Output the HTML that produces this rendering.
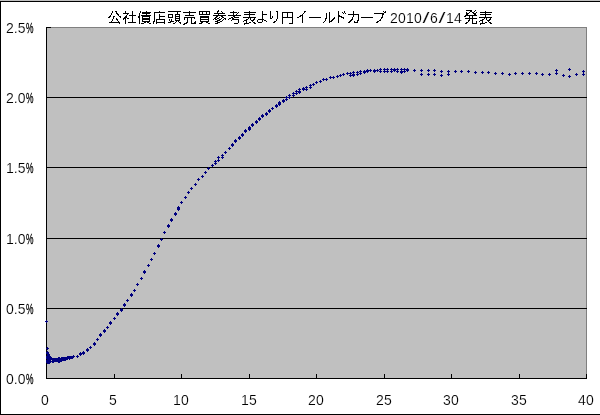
<!DOCTYPE html>
<html lang="ja"><head><meta charset="utf-8">
<title>公社債店頭売買参考表より円イールドカーブ 2010/6/14発表</title>
<style>
html,body{margin:0;padding:0;background:#fff}
body{width:600px;height:415px;overflow:hidden;position:relative;font-family:"Liberation Sans",sans-serif;font-size:14px;color:#000}
#c{position:absolute;left:0;top:0;width:600px;height:415px;background:#fff;overflow:hidden}
.bt0{position:absolute;left:0;top:0;width:600px;height:1px;background:#c0c0c0}
.bt{position:absolute;left:0;top:1px;width:600px;height:1px;background:#000}
.bl{position:absolute;left:0;top:1px;width:1px;height:414px;background:#000}
.bb{position:absolute;left:0;top:414px;width:600px;height:1px;background:#000}
#p{position:absolute;left:46px;top:27px;width:541px;height:352px;background:#c0c0c0}
.pt{position:absolute;left:46px;top:27px;width:541px;height:1px;background:#808080}
.pr{position:absolute;left:586px;top:27px;width:1px;height:352px;background:#808080}
.g{position:absolute;left:46px;width:541px;height:1px;background:#000}
.ax{position:absolute;left:46px;top:27px;width:1px;height:352px;background:#000}
.ay{position:absolute;left:46px;top:378px;width:541px;height:1px;background:#000}
.t{position:absolute;top:374px;width:1px;height:5px;background:#000}
.t0{position:absolute;left:46px;top:27px;width:5px;height:1px;background:#000}
.yl{position:absolute;left:6px;width:40px;height:14px;line-height:14px;margin-top:-6px;text-align:left;white-space:nowrap}
.pc{display:inline-block;transform:scaleX(.6);transform-origin:0 50%}
.xl{position:absolute;top:393px;width:40px;margin-left:-20px;height:14px;line-height:14px;text-align:center;letter-spacing:.22px}
.xl.s{margin-left:-21px}
#ttl{position:absolute;left:0;top:0;width:600px;height:27px}
.td{position:absolute;left:390px;top:11px;height:14px;line-height:14px;white-space:nowrap;font-size:14px}
.td span{display:inline-block;text-align:center;width:8px}.td span.s{transform:scaleX(1.8)}
svg{position:absolute;left:0;top:0;overflow:visible}
.yl,.xl,.td{-webkit-text-stroke:0.15px #fff;will-change:transform}
.pc{-webkit-text-stroke:0.3px #000;margin-left:1px}
</style></head><body>
<div id="c">
<div class="bt0"></div><div class="bt"></div><div class="bl"></div><div class="bb"></div>
<div id="ttl">
<svg width="600" height="27" viewBox="0 0 600 27" role="img" aria-label="公社債店頭売買参考表より円イールドカーブ 2010/6/14発表"><title>公社債店頭売買参考表より円イールドカーブ 2010/6/14発表</title>
<path fill="#000" shape-rendering="crispEdges" d="M112 11h1v1h-1zM115 11h2v1h-2zM112 12h1v1h-1zM116 12h1v1h-1zM111 13h1v1h-1zM116 13h2v1h-2zM111 14h1v1h-1zM117 14h2v1h-2zM110 15h1v1h-1zM118 15h1v1h-1zM109 16h2v1h-2zM113 16h2v1h-2zM119 16h2v1h-2zM108 17h2v1h-2zM113 17h1v1h-1zM120 17h1v1h-1zM113 18h1v1h-1zM116 18h1v1h-1zM112 19h1v1h-1zM116 19h2v1h-2zM112 20h1v1h-1zM117 20h1v1h-1zM111 21h1v1h-1zM118 21h1v1h-1zM109 22h11v1h-11zM119 23h1v1h-1zM125 11h1v1h-1zM132 11h1v1h-1zM125 12h1v1h-1zM132 12h1v1h-1zM123 13h6v1h-6zM132 13h1v1h-1zM127 14h1v1h-1zM132 14h1v1h-1zM126 15h1v1h-1zM129 15h7v1h-7zM125 16h2v1h-2zM132 16h1v1h-1zM124 17h3v1h-3zM132 17h1v1h-1zM123 18h3v1h-3zM127 18h2v1h-2zM132 18h1v1h-1zM123 19h1v1h-1zM125 19h1v1h-1zM132 19h1v1h-1zM125 20h1v1h-1zM132 20h1v1h-1zM125 21h1v1h-1zM132 21h1v1h-1zM125 22h1v1h-1zM128 22h8v1h-8zM125 23h1v1h-1zM140 11h1v1h-1zM146 11h1v1h-1zM140 12h1v1h-1zM142 12h9v1h-9zM139 13h1v1h-1zM142 13h8v1h-8zM139 14h1v1h-1zM146 14h1v1h-1zM139 15h1v1h-1zM141 15h10v1h-10zM138 16h2v1h-2zM142 16h8v1h-8zM138 17h2v1h-2zM142 17h1v1h-1zM149 17h1v1h-1zM139 18h1v1h-1zM142 18h8v1h-8zM139 19h1v1h-1zM142 19h8v1h-8zM139 20h1v1h-1zM142 20h1v1h-1zM149 20h1v1h-1zM139 21h1v1h-1zM142 21h8v1h-8zM139 22h1v1h-1zM144 22h2v1h-2zM147 22h2v1h-2zM139 23h1v1h-1zM141 23h3v1h-3zM149 23h2v1h-2zM159 11h1v1h-1zM154 12h11v1h-11zM154 13h1v1h-1zM154 14h1v1h-1zM159 14h1v1h-1zM154 15h1v1h-1zM159 15h1v1h-1zM154 16h1v1h-1zM159 16h6v1h-6zM154 17h1v1h-1zM159 17h1v1h-1zM154 18h1v1h-1zM159 18h1v1h-1zM154 19h1v1h-1zM156 19h9v1h-9zM154 20h1v1h-1zM156 20h1v1h-1zM164 20h1v1h-1zM153 21h2v1h-2zM156 21h1v1h-1zM164 21h1v1h-1zM153 22h1v1h-1zM156 22h9v1h-9zM153 23h1v1h-1zM156 23h1v1h-1zM164 23h1v1h-1zM168 11h13v1h-13zM177 12h1v1h-1zM177 13h1v1h-1zM168 14h5v1h-5zM175 14h5v1h-5zM168 15h1v1h-1zM172 15h1v1h-1zM175 15h1v1h-1zM179 15h1v1h-1zM168 16h1v1h-1zM172 16h1v1h-1zM175 16h5v1h-5zM168 17h5v1h-5zM175 17h1v1h-1zM179 17h1v1h-1zM175 18h5v1h-5zM169 19h1v1h-1zM171 19h1v1h-1zM175 19h1v1h-1zM179 19h1v1h-1zM169 20h1v1h-1zM171 20h1v1h-1zM175 20h5v1h-5zM170 21h4v1h-4zM176 21h1v1h-1zM178 21h1v1h-1zM168 22h3v1h-3zM175 22h1v1h-1zM179 22h2v1h-2zM173 23h2v1h-2zM180 23h1v1h-1zM189 11h1v1h-1zM183 12h13v1h-13zM189 13h1v1h-1zM189 14h1v1h-1zM185 15h9v1h-9zM184 17h11v1h-11zM184 18h1v1h-1zM187 18h1v1h-1zM191 18h1v1h-1zM194 18h1v1h-1zM184 19h1v1h-1zM187 19h1v1h-1zM191 19h1v1h-1zM187 20h1v1h-1zM191 20h1v1h-1zM187 21h1v1h-1zM191 21h1v1h-1zM195 21h1v1h-1zM186 22h2v1h-2zM191 22h1v1h-1zM194 22h2v1h-2zM184 23h3v1h-3zM191 23h5v1h-5zM183 24h2v1h-2zM199 11h11v1h-11zM199 12h1v1h-1zM202 12h1v1h-1zM206 12h1v1h-1zM209 12h1v1h-1zM199 13h1v1h-1zM202 13h1v1h-1zM206 13h1v1h-1zM209 13h1v1h-1zM199 14h11v1h-11zM200 16h9v1h-9zM200 17h9v1h-9zM200 18h1v1h-1zM208 18h1v1h-1zM200 19h9v1h-9zM200 20h1v1h-1zM208 20h1v1h-1zM200 21h9v1h-9zM201 22h2v1h-2zM206 22h2v1h-2zM199 23h3v1h-3zM208 23h2v1h-2zM218 10h1v1h-1zM217 11h2v1h-2zM221 11h1v1h-1zM217 12h1v1h-1zM222 12h1v1h-1zM214 13h11v1h-11zM218 14h1v1h-1zM213 15h13v1h-13zM216 16h2v1h-2zM221 16h2v1h-2zM215 17h2v1h-2zM219 17h1v1h-1zM222 17h2v1h-2zM214 18h2v1h-2zM217 18h2v1h-2zM221 18h1v1h-1zM224 18h2v1h-2zM213 19h1v1h-1zM215 19h2v1h-2zM219 19h2v1h-2zM223 19h1v1h-1zM225 19h1v1h-1zM217 20h3v1h-3zM222 20h1v1h-1zM215 21h3v1h-3zM220 21h2v1h-2zM217 22h3v1h-3zM215 23h3v1h-3zM233 11h1v1h-1zM230 12h7v1h-7zM238 12h1v1h-1zM233 13h1v1h-1zM237 13h1v1h-1zM233 14h1v1h-1zM236 14h1v1h-1zM228 15h13v1h-13zM233 16h2v1h-2zM231 17h2v1h-2zM234 17h5v1h-5zM229 18h2v1h-2zM232 18h2v1h-2zM228 19h1v1h-1zM232 19h7v1h-7zM231 20h1v1h-1zM238 20h1v1h-1zM238 21h1v1h-1zM238 22h1v1h-1zM234 23h4v1h-4zM249 11h1v1h-1zM244 12h12v1h-12zM249 13h1v1h-1zM244 14h11v1h-11zM249 15h1v1h-1zM249 16h1v1h-1zM243 17h13v1h-13zM248 18h1v1h-1zM250 18h1v1h-1zM254 18h1v1h-1zM246 19h2v1h-2zM250 19h1v1h-1zM253 19h2v1h-2zM244 20h3v1h-3zM251 20h3v1h-3zM243 21h1v1h-1zM246 21h1v1h-1zM252 21h1v1h-1zM246 22h1v1h-1zM249 22h2v1h-2zM253 22h2v1h-2zM244 23h5v1h-5zM254 23h2v1h-2zM244 24h1v1h-1zM262 11h1v1h-1zM262 12h1v1h-1zM262 13h1v1h-1zM262 14h5v1h-5zM262 15h1v1h-1zM262 16h1v1h-1zM262 17h1v1h-1zM262 18h1v1h-1zM258 19h6v1h-6zM257 20h1v1h-1zM262 20h1v1h-1zM264 20h2v1h-2zM257 21h1v1h-1zM262 21h1v1h-1zM266 21h1v1h-1zM258 22h4v1h-4zM270 11h1v1h-1zM276 11h2v1h-2zM270 12h1v1h-1zM277 12h1v1h-1zM270 13h1v1h-1zM277 13h1v1h-1zM270 14h1v1h-1zM277 14h1v1h-1zM270 15h1v1h-1zM277 15h1v1h-1zM270 16h1v1h-1zM272 16h1v1h-1zM277 16h1v1h-1zM270 17h1v1h-1zM272 17h1v1h-1zM277 17h1v1h-1zM270 18h2v1h-2zM277 18h1v1h-1zM276 19h1v1h-1zM276 20h1v1h-1zM274 21h2v1h-2zM273 22h2v1h-2zM282 12h11v1h-11zM282 13h1v1h-1zM287 13h1v1h-1zM292 13h1v1h-1zM282 14h1v1h-1zM287 14h1v1h-1zM292 14h1v1h-1zM282 15h1v1h-1zM287 15h1v1h-1zM292 15h1v1h-1zM282 16h1v1h-1zM287 16h1v1h-1zM292 16h1v1h-1zM282 17h11v1h-11zM282 18h1v1h-1zM292 18h1v1h-1zM282 19h1v1h-1zM292 19h1v1h-1zM282 20h1v1h-1zM292 20h1v1h-1zM282 21h1v1h-1zM292 21h1v1h-1zM282 22h1v1h-1zM292 22h1v1h-1zM282 23h1v1h-1zM289 23h4v1h-4zM304 11h2v1h-2zM304 12h1v1h-1zM303 13h1v1h-1zM302 14h1v1h-1zM300 15h3v1h-3zM299 16h2v1h-2zM302 16h1v1h-1zM297 17h2v1h-2zM302 17h1v1h-1zM302 18h1v1h-1zM302 19h1v1h-1zM302 20h1v1h-1zM302 21h1v1h-1zM302 22h1v1h-1zM309 17h12v1h-12zM329 12h1v1h-1zM326 13h1v1h-1zM329 13h1v1h-1zM326 14h1v1h-1zM329 14h1v1h-1zM326 15h1v1h-1zM329 15h1v1h-1zM326 16h1v1h-1zM329 16h1v1h-1zM326 17h1v1h-1zM329 17h1v1h-1zM334 17h1v1h-1zM325 18h2v1h-2zM329 18h1v1h-1zM333 18h2v1h-2zM325 19h1v1h-1zM329 19h1v1h-1zM332 19h2v1h-2zM325 20h1v1h-1zM329 20h1v1h-1zM331 20h2v1h-2zM324 21h1v1h-1zM329 21h3v1h-3zM323 22h1v1h-1zM329 22h1v1h-1zM338 11h1v1h-1zM344 11h1v1h-1zM338 12h1v1h-1zM342 12h1v1h-1zM344 12h1v1h-1zM338 13h1v1h-1zM343 13h1v1h-1zM345 13h1v1h-1zM338 14h1v1h-1zM338 15h2v1h-2zM338 16h4v1h-4zM338 17h1v1h-1zM341 17h3v1h-3zM338 18h1v1h-1zM343 18h1v1h-1zM338 19h1v1h-1zM338 20h1v1h-1zM338 21h1v1h-1zM338 22h1v1h-1zM353 11h1v1h-1zM353 12h1v1h-1zM353 13h1v1h-1zM348 14h11v1h-11zM353 15h1v1h-1zM358 15h1v1h-1zM353 16h1v1h-1zM358 16h1v1h-1zM352 17h1v1h-1zM358 17h1v1h-1zM352 18h1v1h-1zM358 18h1v1h-1zM351 19h2v1h-2zM358 19h1v1h-1zM350 20h2v1h-2zM357 20h2v1h-2zM349 21h2v1h-2zM354 21h1v1h-1zM357 21h1v1h-1zM348 22h2v1h-2zM354 22h4v1h-4zM361 17h12v1h-12zM383 11h1v1h-1zM385 11h1v1h-1zM384 12h2v1h-2zM374 13h10v1h-10zM382 14h2v1h-2zM382 15h1v1h-1zM382 16h1v1h-1zM381 17h2v1h-2zM381 18h1v1h-1zM380 19h1v1h-1zM379 20h2v1h-2zM377 21h2v1h-2zM376 22h2v1h-2z"/>
<path fill="#000" shape-rendering="crispEdges" d="M466 10h6v1h-6zM475 10h1v1h-1zM470 11h2v1h-2zM474 11h1v1h-1zM466 12h1v1h-1zM469 12h1v1h-1zM472 12h2v1h-2zM476 12h1v1h-1zM466 13h3v1h-3zM473 13h3v1h-3zM466 14h2v1h-2zM474 14h2v1h-2zM465 15h12v1h-12zM464 16h2v1h-2zM469 16h1v1h-1zM472 16h1v1h-1zM469 17h1v1h-1zM472 17h1v1h-1zM465 18h12v1h-12zM469 19h1v1h-1zM472 19h1v1h-1zM468 20h2v1h-2zM472 20h1v1h-1zM468 21h1v1h-1zM472 21h1v1h-1zM476 21h1v1h-1zM466 22h2v1h-2zM472 22h1v1h-1zM476 22h1v1h-1zM465 23h2v1h-2zM472 23h5v1h-5zM485 11h1v1h-1zM480 12h12v1h-12zM485 13h1v1h-1zM480 14h11v1h-11zM485 15h1v1h-1zM485 16h1v1h-1zM479 17h13v1h-13zM484 18h1v1h-1zM486 18h1v1h-1zM490 18h1v1h-1zM482 19h2v1h-2zM486 19h1v1h-1zM489 19h2v1h-2zM480 20h3v1h-3zM487 20h3v1h-3zM479 21h1v1h-1zM482 21h1v1h-1zM488 21h1v1h-1zM482 22h1v1h-1zM485 22h2v1h-2zM489 22h2v1h-2zM480 23h5v1h-5zM490 23h2v1h-2zM480 24h1v1h-1z"/>
</svg>
<div class="td"><span>2</span><span>0</span><span>1</span><span>0</span><span class="s">/</span><span>6</span><span class="s">/</span><span>1</span><span>4</span></div>
</div>
<div id="p"></div><div class="pt"></div><div class="pr"></div>
<div class="g" style="top:97px"></div><div class="g" style="top:167px"></div><div class="g" style="top:238px"></div><div class="g" style="top:308px"></div>
<div class="ax"></div><div class="ay"></div><div class="t0"></div>
<div class="t" style="left:46px"></div><div class="t" style="left:114px"></div><div class="t" style="left:181px"></div><div class="t" style="left:249px"></div><div class="t" style="left:316px"></div><div class="t" style="left:384px"></div><div class="t" style="left:451px"></div><div class="t" style="left:519px"></div><div class="t" style="left:586px"></div>
<div class="yl" style="top:27px">2.5<span class="pc">%</span></div><div class="yl" style="top:97px">2.0<span class="pc">%</span></div><div class="yl" style="top:167px">1.5<span class="pc">%</span></div><div class="yl" style="top:238px">1.0<span class="pc">%</span></div><div class="yl" style="top:308px">0.5<span class="pc">%</span></div><div class="yl" style="top:378px">0.0<span class="pc">%</span></div>
<div class="xl s" style="left:46px">0</div><div class="xl s" style="left:114px">5</div><div class="xl" style="left:181px">10</div><div class="xl" style="left:249px">15</div><div class="xl" style="left:316px">20</div><div class="xl" style="left:384px">25</div><div class="xl" style="left:451px">30</div><div class="xl" style="left:519px">35</div><div class="xl" style="left:586px">40</div>
<svg width="600" height="415" viewBox="0 0 600 415" shape-rendering="crispEdges"><path fill="#000080" d="M45 321h3v1h-3zM46 320h1v3h-1zM46 348h3v1h-3zM47 347h1v3h-1zM46 352h3v1h-3zM47 351h1v3h-1zM46 353h3v1h-3zM47 352h1v3h-1zM46 356h3v1h-3zM47 355h1v3h-1zM46 357h3v1h-3zM47 356h1v3h-1zM46 358h3v1h-3zM47 357h1v3h-1zM46 360h3v1h-3zM47 359h1v3h-1zM46 361h3v1h-3zM47 360h1v3h-1zM46 362h3v1h-3zM47 361h1v3h-1zM47 354h3v1h-3zM48 353h1v3h-1zM47 355h3v1h-3zM48 354h1v3h-1zM47 356h3v1h-3zM48 355h1v3h-1zM47 357h3v1h-3zM48 356h1v3h-1zM47 358h3v1h-3zM48 357h1v3h-1zM47 359h3v1h-3zM48 358h1v3h-1zM47 360h3v1h-3zM48 359h1v3h-1zM47 361h3v1h-3zM48 360h1v3h-1zM47 362h3v1h-3zM48 361h1v3h-1zM48 356h3v1h-3zM49 355h1v3h-1zM48 357h3v1h-3zM49 356h1v3h-1zM48 358h3v1h-3zM49 357h1v3h-1zM48 359h3v1h-3zM49 358h1v3h-1zM48 360h3v1h-3zM49 359h1v3h-1zM48 361h3v1h-3zM49 360h1v3h-1zM48 362h3v1h-3zM49 361h1v3h-1zM49 357h3v1h-3zM50 356h1v3h-1zM49 358h3v1h-3zM50 357h1v3h-1zM49 359h3v1h-3zM50 358h1v3h-1zM49 361h3v1h-3zM50 360h1v3h-1zM50 358h3v1h-3zM51 357h1v3h-1zM51 359h3v1h-3zM52 358h1v3h-1zM52 359h3v1h-3zM53 358h1v3h-1zM52 360h3v1h-3zM53 359h1v3h-1zM53 359h3v1h-3zM54 358h1v3h-1zM53 360h3v1h-3zM54 359h1v3h-1zM54 359h3v1h-3zM55 358h1v3h-1zM54 360h3v1h-3zM55 359h1v3h-1zM55 359h3v1h-3zM56 358h1v3h-1zM55 360h3v1h-3zM56 359h1v3h-1zM56 359h3v1h-3zM57 358h1v3h-1zM56 360h3v1h-3zM57 359h1v3h-1zM57 359h3v1h-3zM58 358h1v3h-1zM57 360h3v1h-3zM58 359h1v3h-1zM58 359h3v1h-3zM59 358h1v3h-1zM58 360h3v1h-3zM59 359h1v3h-1zM59 359h3v1h-3zM60 358h1v3h-1zM59 360h3v1h-3zM60 359h1v3h-1zM60 359h3v1h-3zM61 358h1v3h-1zM60 360h3v1h-3zM61 359h1v3h-1zM61 358h3v1h-3zM62 357h1v3h-1zM61 359h3v1h-3zM62 358h1v3h-1zM62 358h3v1h-3zM63 357h1v3h-1zM62 359h3v1h-3zM63 358h1v3h-1zM63 358h3v1h-3zM64 357h1v3h-1zM63 359h3v1h-3zM64 358h1v3h-1zM64 358h3v1h-3zM65 357h1v3h-1zM64 359h3v1h-3zM65 358h1v3h-1zM65 358h3v1h-3zM66 357h1v3h-1zM66 358h3v1h-3zM67 357h1v3h-1zM67 357h3v1h-3zM68 356h1v3h-1zM68 357h3v1h-3zM69 356h1v3h-1zM69 357h3v1h-3zM70 356h1v3h-1zM70 357h3v1h-3zM71 356h1v3h-1zM71 357h3v1h-3zM72 356h1v3h-1zM72 356h3v1h-3zM73 355h1v3h-1zM57 358h3v1h-3zM58 357h1v3h-1zM58 358h3v1h-3zM59 357h1v3h-1zM60 358h3v1h-3zM61 357h1v3h-1zM51 361h3v1h-3zM52 360h1v3h-1zM52 361h3v1h-3zM53 360h1v3h-1zM57 361h3v1h-3zM58 360h1v3h-1zM58 361h3v1h-3zM59 360h1v3h-1zM68 358h3v1h-3zM69 357h1v3h-1zM66 357h3v1h-3zM67 356h1v3h-1zM76 356h3v1h-3zM77 355h1v3h-1zM79 353h3v1h-3zM80 352h1v3h-1zM79 354h3v1h-3zM80 353h1v3h-1zM82 352h3v1h-3zM83 351h1v3h-1zM82 353h3v1h-3zM83 352h1v3h-1zM86 349h3v1h-3zM87 348h1v3h-1zM86 350h3v1h-3zM87 349h1v3h-1zM89 347h3v1h-3zM90 346h1v3h-1zM93 343h3v1h-3zM94 342h1v3h-1zM93 344h3v1h-3zM94 343h1v3h-1zM96 339h3v1h-3zM97 338h1v3h-1zM99 334h3v1h-3zM100 333h1v3h-1zM99 335h3v1h-3zM100 334h1v3h-1zM103 330h3v1h-3zM104 329h1v3h-1zM103 331h3v1h-3zM104 330h1v3h-1zM106 327h3v1h-3zM107 326h1v3h-1zM109 322h3v1h-3zM110 321h1v3h-1zM109 323h3v1h-3zM110 322h1v3h-1zM113 318h3v1h-3zM114 317h1v3h-1zM116 313h3v1h-3zM117 312h1v3h-1zM116 314h3v1h-3zM117 313h1v3h-1zM120 309h3v1h-3zM121 308h1v3h-1zM120 310h3v1h-3zM121 309h1v3h-1zM123 304h3v1h-3zM124 303h1v3h-1zM123 305h3v1h-3zM124 304h1v3h-1zM126 300h3v1h-3zM127 299h1v3h-1zM130 294h3v1h-3zM131 293h1v3h-1zM130 295h3v1h-3zM131 294h1v3h-1zM133 290h3v1h-3zM134 289h1v3h-1zM136 284h3v1h-3zM137 283h1v3h-1zM140 278h3v1h-3zM141 277h1v3h-1zM143 271h3v1h-3zM144 270h1v3h-1zM143 272h3v1h-3zM144 271h1v3h-1zM147 265h3v1h-3zM148 264h1v3h-1zM150 259h3v1h-3zM151 258h1v3h-1zM153 253h3v1h-3zM154 252h1v3h-1zM157 245h3v1h-3zM158 244h1v3h-1zM157 246h3v1h-3zM158 245h1v3h-1zM160 239h3v1h-3zM161 238h1v3h-1zM163 232h3v1h-3zM164 231h1v3h-1zM167 225h3v1h-3zM168 224h1v3h-1zM167 226h3v1h-3zM168 225h1v3h-1zM170 219h3v1h-3zM171 218h1v3h-1zM170 220h3v1h-3zM171 219h1v3h-1zM174 213h3v1h-3zM175 212h1v3h-1zM174 214h3v1h-3zM175 213h1v3h-1zM177 207h3v1h-3zM178 206h1v3h-1zM177 208h3v1h-3zM178 207h1v3h-1zM177 209h3v1h-3zM178 208h1v3h-1zM180 202h3v1h-3zM181 201h1v3h-1zM184 197h3v1h-3zM185 196h1v3h-1zM187 192h3v1h-3zM188 191h1v3h-1zM190 188h3v1h-3zM191 187h1v3h-1zM194 184h3v1h-3zM195 183h1v3h-1zM197 179h3v1h-3zM198 178h1v3h-1zM201 176h3v1h-3zM202 175h1v3h-1zM204 172h3v1h-3zM205 171h1v3h-1zM207 168h3v1h-3zM208 167h1v3h-1zM211 165h3v1h-3zM212 164h1v3h-1zM214 163h3v1h-3zM215 162h1v3h-1zM214 161h3v1h-3zM215 160h1v3h-1zM217 160h3v1h-3zM218 159h1v3h-1zM217 157h3v1h-3zM218 156h1v3h-1zM221 157h3v1h-3zM222 156h1v3h-1zM221 155h3v1h-3zM222 154h1v3h-1zM224 152h3v1h-3zM225 151h1v3h-1zM228 148h3v1h-3zM229 147h1v3h-1zM231 144h3v1h-3zM232 143h1v3h-1zM231 145h3v1h-3zM232 144h1v3h-1zM234 140h3v1h-3zM235 139h1v3h-1zM234 141h3v1h-3zM235 140h1v3h-1zM238 137h3v1h-3zM239 136h1v3h-1zM238 138h3v1h-3zM239 137h1v3h-1zM241 134h3v1h-3zM242 133h1v3h-1zM241 135h3v1h-3zM242 134h1v3h-1zM244 130h3v1h-3zM245 129h1v3h-1zM244 131h3v1h-3zM245 130h1v3h-1zM248 127h3v1h-3zM249 126h1v3h-1zM248 128h3v1h-3zM249 127h1v3h-1zM248 129h3v1h-3zM249 128h1v3h-1zM251 124h3v1h-3zM252 123h1v3h-1zM251 125h3v1h-3zM252 124h1v3h-1zM255 121h3v1h-3zM256 120h1v3h-1zM255 122h3v1h-3zM256 121h1v3h-1zM258 118h3v1h-3zM259 117h1v3h-1zM258 119h3v1h-3zM259 118h1v3h-1zM261 115h3v1h-3zM262 114h1v3h-1zM261 116h3v1h-3zM262 115h1v3h-1zM265 113h3v1h-3zM266 112h1v3h-1zM265 114h3v1h-3zM266 113h1v3h-1zM268 110h3v1h-3zM269 109h1v3h-1zM268 111h3v1h-3zM269 110h1v3h-1zM271 108h3v1h-3zM272 107h1v3h-1zM275 105h3v1h-3zM276 104h1v3h-1zM275 106h3v1h-3zM276 105h1v3h-1zM278 102h3v1h-3zM279 101h1v3h-1zM278 103h3v1h-3zM279 102h1v3h-1zM278 104h3v1h-3zM279 103h1v3h-1zM282 100h3v1h-3zM283 99h1v3h-1zM282 101h3v1h-3zM283 100h1v3h-1zM285 97h3v1h-3zM286 96h1v3h-1zM285 99h3v1h-3zM286 98h1v3h-1zM288 95h3v1h-3zM289 94h1v3h-1zM288 97h3v1h-3zM289 96h1v3h-1zM292 93h3v1h-3zM293 92h1v3h-1zM292 95h3v1h-3zM293 94h1v3h-1zM295 91h3v1h-3zM296 90h1v3h-1zM295 93h3v1h-3zM296 92h1v3h-1zM298 89h3v1h-3zM299 88h1v3h-1zM298 91h3v1h-3zM299 90h1v3h-1zM298 92h3v1h-3zM299 91h1v3h-1zM302 88h3v1h-3zM303 87h1v3h-1zM302 89h3v1h-3zM303 88h1v3h-1zM305 87h3v1h-3zM306 86h1v3h-1zM305 89h3v1h-3zM306 88h1v3h-1zM309 85h3v1h-3zM310 84h1v3h-1zM309 87h3v1h-3zM310 86h1v3h-1zM312 84h3v1h-3zM313 83h1v3h-1zM315 82h3v1h-3zM316 81h1v3h-1zM319 81h3v1h-3zM320 80h1v3h-1zM322 79h3v1h-3zM323 78h1v3h-1zM325 79h3v1h-3zM326 78h1v3h-1zM329 77h3v1h-3zM330 76h1v3h-1zM332 77h3v1h-3zM333 76h1v3h-1zM336 76h3v1h-3zM337 75h1v3h-1zM339 75h3v1h-3zM340 74h1v3h-1zM342 74h3v1h-3zM343 73h1v3h-1zM346 73h3v1h-3zM347 72h1v3h-1zM349 73h3v1h-3zM350 72h1v3h-1zM349 75h3v1h-3zM350 74h1v3h-1zM352 72h3v1h-3zM353 71h1v3h-1zM352 74h3v1h-3zM353 73h1v3h-1zM352 75h3v1h-3zM353 74h1v3h-1zM356 72h3v1h-3zM357 71h1v3h-1zM356 74h3v1h-3zM357 73h1v3h-1zM359 71h3v1h-3zM360 70h1v3h-1zM359 73h3v1h-3zM360 72h1v3h-1zM363 71h3v1h-3zM364 70h1v3h-1zM363 72h3v1h-3zM364 71h1v3h-1zM366 70h3v1h-3zM367 69h1v3h-1zM366 71h3v1h-3zM367 70h1v3h-1zM369 70h3v1h-3zM370 69h1v3h-1zM373 70h3v1h-3zM374 69h1v3h-1zM373 71h3v1h-3zM374 70h1v3h-1zM376 70h3v1h-3zM377 69h1v3h-1zM379 69h3v1h-3zM380 68h1v3h-1zM379 71h3v1h-3zM380 70h1v3h-1zM383 69h3v1h-3zM384 68h1v3h-1zM383 71h3v1h-3zM384 70h1v3h-1zM386 69h3v1h-3zM387 68h1v3h-1zM386 71h3v1h-3zM387 70h1v3h-1zM390 69h3v1h-3zM391 68h1v3h-1zM390 71h3v1h-3zM391 70h1v3h-1zM393 69h3v1h-3zM394 68h1v3h-1zM393 70h3v1h-3zM394 69h1v3h-1zM396 69h3v1h-3zM397 68h1v3h-1zM396 71h3v1h-3zM397 70h1v3h-1zM400 69h3v1h-3zM401 68h1v3h-1zM400 71h3v1h-3zM401 70h1v3h-1zM400 72h3v1h-3zM401 71h1v3h-1zM403 69h3v1h-3zM404 68h1v3h-1zM403 71h3v1h-3zM404 70h1v3h-1zM406 69h3v1h-3zM407 68h1v3h-1zM406 70h3v1h-3zM407 69h1v3h-1zM413 70h3v1h-3zM414 69h1v3h-1zM420 70h3v1h-3zM421 69h1v3h-1zM420 74h3v1h-3zM421 73h1v3h-1zM427 70h3v1h-3zM428 69h1v3h-1zM427 74h3v1h-3zM428 73h1v3h-1zM433 70h3v1h-3zM434 69h1v3h-1zM433 74h3v1h-3zM434 73h1v3h-1zM440 71h3v1h-3zM441 70h1v3h-1zM440 75h3v1h-3zM441 74h1v3h-1zM447 71h3v1h-3zM448 70h1v3h-1zM447 74h3v1h-3zM448 73h1v3h-1zM454 71h3v1h-3zM455 70h1v3h-1zM460 71h3v1h-3zM461 70h1v3h-1zM467 71h3v1h-3zM468 70h1v3h-1zM474 72h3v1h-3zM475 71h1v3h-1zM481 72h3v1h-3zM482 71h1v3h-1zM487 72h3v1h-3zM488 71h1v3h-1zM494 73h3v1h-3zM495 72h1v3h-1zM501 73h3v1h-3zM502 72h1v3h-1zM508 74h3v1h-3zM509 73h1v3h-1zM514 73h3v1h-3zM515 72h1v3h-1zM521 73h3v1h-3zM522 72h1v3h-1zM528 73h3v1h-3zM529 72h1v3h-1zM535 73h3v1h-3zM536 72h1v3h-1zM541 74h3v1h-3zM542 73h1v3h-1zM548 74h3v1h-3zM549 73h1v3h-1zM555 70h3v1h-3zM556 69h1v3h-1zM555 73h3v1h-3zM556 72h1v3h-1zM562 75h3v1h-3zM563 74h1v3h-1zM568 69h3v1h-3zM569 68h1v3h-1zM568 76h3v1h-3zM569 75h1v3h-1zM575 74h3v1h-3zM576 73h1v3h-1zM582 71h3v1h-3zM583 70h1v3h-1zM582 74h3v1h-3zM583 73h1v3h-1z"/></svg>
</div>
</body></html>
